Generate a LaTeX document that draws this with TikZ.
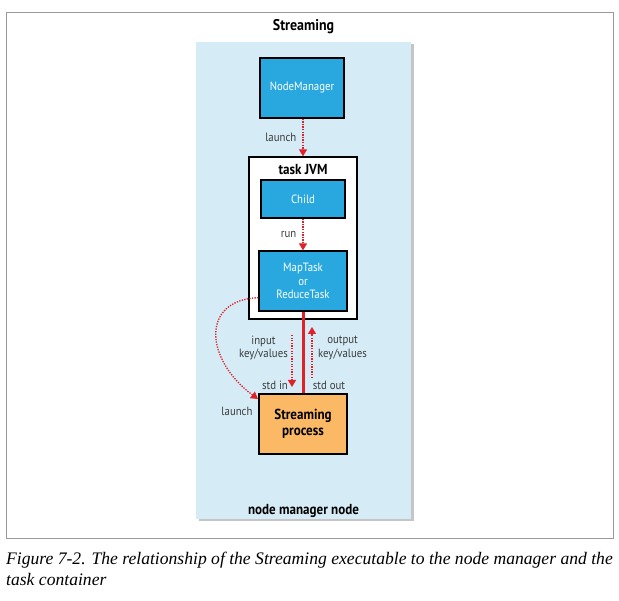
\documentclass[tikz,border=0pt]{standalone}
\usepackage{fontspec}
\setmainfont{Liberation Serif}
\newfontfamily\diagfont{PT Sans}[FakeStretch=0.9]
\usepackage{tikz}
\usetikzlibrary{arrows.meta,shadows,positioning}
\definecolor{panelblue}{HTML}{D5ECF7}
\definecolor{boxblue}{HTML}{29A8E0}
\definecolor{procorange}{HTML}{FBB966}
\definecolor{linkred}{HTML}{E0212A}
\definecolor{labelgray}{HTML}{3C3C3C}
\tikzset{
  bluebox/.style={draw=black, line width=1.3pt, fill=boxblue, text=white,
    minimum width=84pt, minimum height=60pt, align=center, inner sep=1pt},
  flow/.style={draw=linkred, line width=1.3pt, dash pattern=on 1.3pt off 1.3pt},
  lbl/.style={text=labelgray, inner sep=1pt, align=center},
  heading/.style={font=\diagfont\fontsize{14.5}{15}\selectfont\bfseries}
}
\begin{document}
\begin{tikzpicture}[x=1pt, y=-1pt, >={Triangle[width=8pt,length=7pt]},
   font=\diagfont\fontsize{12}{13.5}\selectfont
   ]
   \useasboundingbox (0,0) rectangle (619,601);

   \draw[black!40, line width=1pt] (6,13) rectangle (613,539);
   \path (303.5,27) node[heading, font=\diagfont\fontsize{15.5}{16}\selectfont\bfseries] (T) {Streaming};

   \fill[panelblue, drop shadow={shadow xshift=2.5pt, shadow yshift=-2.5pt, fill=black!45}]
     (196,42) rectangle (411,519);
   \path (303.5,511) node[heading] (NMN) {node manager node};

   \path (303,238) node[draw=black, line width=1.3pt, fill=white, minimum width=108pt, minimum height=162pt] (JVM) {}
   (303,170) node[heading] (JVML) {task JVM};

   \path (302,88) node[bluebox] (NM) {NodeManager}
   (303,199) node[bluebox, minimum height=38pt] (CH) {Child}
   (303,281) node[bluebox, minimum width=88pt] (MT) {MapTask\\or\\ReduceTask}
   (303,424) node[bluebox, minimum width=88pt, fill=procorange, text=black, heading] (SP)
     {Streaming\\[0.5pt]process};

   \draw[flow, ->] (NM.south -| JVM.north) -- node[lbl, left=5pt] {launch} (JVM.north);
   \draw[flow, ->] (CH) -- node[lbl, left=5pt] {run} (MT);

   \draw[linkred, line width=3pt] (MT.south) -- (SP.north);

   \coordinate (in1) at (292,335);
   \coordinate (in2) at (292,387);
   \coordinate (out1) at (312,378);
   \coordinate (out2) at (312,327);
   \draw[flow, ->] (in1) -- (in2);
   \draw[flow, ->] (out1) -- (out2);
   \path (289,348) node[lbl, anchor=east] (IKV) {input\\key/values}
   (317,348) node[lbl, anchor=west] (OKV) {output\\key/values}
   (275,385) node[lbl] (SI) {std in}
   (329,385) node[lbl] (SO) {std out};

   \coordinate (sp1) at (258,399);
   \draw[flow, ->] ([yshift=14pt]MT.south west) .. controls (200,300) and (205,360) .. (sp1);
   \path (237,411) node[lbl] (L2) {launch};

   \path (6,565) node[anchor=base west, inner sep=0pt, font=\fontsize{17.6}{20}\selectfont\itshape] (cap1)
     {Figure 7-2. The relationship of the Streaming executable to the node manager and the}
   (6,585) node[anchor=base west, inner sep=0pt, font=\fontsize{17.6}{20}\selectfont\itshape] (cap2)
     {task container};
\end{tikzpicture}
\end{document}
